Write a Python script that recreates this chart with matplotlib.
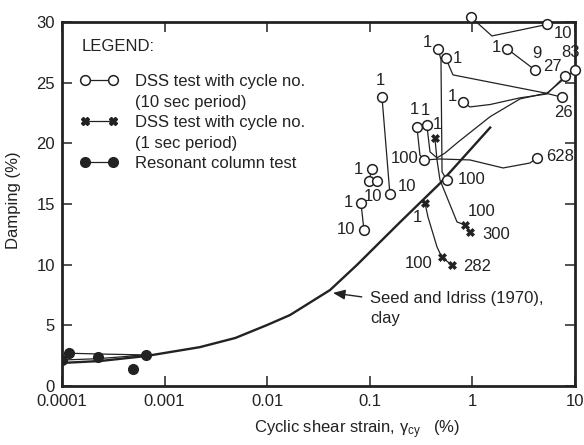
import matplotlib
matplotlib.use('Agg')
import matplotlib.pyplot as plt
from matplotlib.lines import Line2D

plt.rcParams['font.family'] = ['Liberation Sans', 'DejaVu Sans']
plt.rcParams['mathtext.fontset'] = 'custom'
plt.rcParams['mathtext.rm'] = 'Liberation Sans'
plt.rcParams['mathtext.it'] = 'Liberation Sans:italic'

ink = '#222222'

# ---------------- data ----------------

# Seed and Idriss (1970) damping curve for clay
si_strain = [0.0001, 0.000235, 0.00066, 0.0022, 0.0049, 0.01, 0.0167, 0.041, 0.075, 0.197, 0.483, 1.49]
si_damp = [1.9, 2.06, 2.47, 3.2, 3.96, 5.03, 5.85, 7.91, 9.98, 13.5, 16.7, 21.3]

# resonant column test: strain goes up and back down
rc_path_strain = [0.0001, 0.000223, 0.000654, 0.000223, 0.000118]
rc_path_damp = [2.14, 2.25, 2.56, 2.64, 2.70]
rc_strain = [0.0001, 0.000118, 0.000223, 0.000654, 0.000489]
rc_damp = [2.14, 2.70, 2.42, 2.56, 1.40]

# DSS tests, 10 sec period
# cycle no. at each point: None = bend in the path only, '' = reading with no number
t1_strain = [0.969, 1.55, 5.34]
t1_damp = [30.4, 28.85, 29.8]
t1_cyc = ['1', None, '10']

t2_strain = [2.17, 4.07]
t2_damp = [27.8, 26.05]
t2_cyc = ['1', '9']

t3_strain = [0.553, 0.605, 0.647, 5.10, 7.47]
t3_damp = [27.0, 26.2, 25.64, 24.15, 23.8]
t3_cyc = ['1', None, None, None, '26']

t4_strain = [0.81, 0.948, 1.49, 2.91, 5.34, 8.0]
t4_damp = [23.4, 23.0, 23.2, 23.75, 24.07, 25.55]
t4_cyc = ['1', None, None, None, None, '27']

t5_strain = [0.462, 0.494, 0.506, 0.565]
t5_damp = [27.8, 26.9, 17.64, 16.98]
t5_cyc = ['1', None, None, '100']

t6_strain = [0.288, 0.308, 0.337, 0.483, 0.948, 1.99, 3.64, 4.26]
t6_damp = [21.35, 19.04, 18.63, 18.71, 18.63, 17.97, 18.38, 18.8]
t6_cyc = ['1', None, '100', None, None, None, None, '628']

t7_strain = [0.360, 0.386, 0.452, 0.541, 0.724, 1.49, 2.91, 5.34, 10.0]
t7_damp = [21.5, 19.3, 18.8, 19.2, 20.1, 22.2, 23.66, 24.15, 26.05]
t7_cyc = ['1', None, None, None, None, None, None, None, '83']

t8_strain = [0.1315, 0.157]
t8_damp = [23.8, 15.83]
t8_cyc = ['1', '10']

t9_strain = [0.082, 0.0877]
t9_damp = [15.09, 12.86]
t9_cyc = ['1', '10']

t10_strain = [0.105, 0.098, 0.1175]
t10_damp = [17.9, 16.9, 16.9]
t10_cyc = ['1', '', '10']

# DSS tests, 1 sec period
x1_strain = [0.431, 0.452, 0.483, 0.708, 0.847, 0.948]
x1_damp = [20.45, 18.63, 16.98, 13.52, 13.27, 12.7]
x1_cyc = ['1', None, None, None, '100', '300']

x2_strain = [0.345, 0.369, 0.452, 0.502, 0.628]
x2_damp = [15.09, 13.93, 11.46, 10.63, 9.98]
x2_cyc = ['1', None, None, '100', '282']

xticks = [0.0001, 0.001, 0.01, 0.1, 1, 10]
xtick_labels = ['0.0001', '0.001', '0.01', '0.1', '1', '10']
yticks = [0, 5, 10, 15, 20, 25, 30]

# ---------------- plotting ----------------

fig = plt.figure(figsize=(5.84, 4.45), dpi=100)
ax = fig.add_axes([62 / 584, 1 - 386 / 445, 513 / 584, 364 / 445])
ax.set_xscale('log')
ax.set_xlim(0.0001, 10)
ax.set_ylim(0, 30)

ax.plot(si_strain, si_damp, color=ink, lw=1.7, zorder=2)

ax.plot(rc_path_strain, rc_path_damp, color=ink, lw=0.9, zorder=3)
ax.plot(rc_strain, rc_damp, 'o', color=ink, ms=7, zorder=4)

# label offsets in pixels for the numbered points of each test
tests = [
    (t1_strain, t1_damp, t1_cyc, 'o', [(-14, 1), None, (16, -9)]),
    (t2_strain, t2_damp, t2_cyc, 'o', [(-11, 1), (2, 16)]),
    (t3_strain, t3_damp, t3_cyc, 'o', [(11, 0), None, None, None, (1, -15)]),
    (t4_strain, t4_damp, t4_cyc, 'o', [(-11, 6), None, None, None, None, (-13, 9)]),
    (t5_strain, t5_damp, t5_cyc, 'o', [(-11, 6), None, None, (25, 0)]),
    (t6_strain, t6_damp, t6_cyc, 'o', [(-3, 17), None, (-19, 1), None, None, None, None, (23, 1)]),
    (t7_strain, t7_damp, t7_cyc, 'o', [(-2, 15), None, None, None, None, None, None, None, (-4, 17)]),
    (t8_strain, t8_damp, t8_cyc, 'o', [(-2, 17), (17, 7)]),
    (t9_strain, t9_damp, t9_cyc, 'o', [(-13, 0), (-18, 0)]),
    (t10_strain, t10_damp, t10_cyc, 'o', [(-14, -1), None, (-4, -16)]),
    (x1_strain, x1_damp, x1_cyc, 'X', [(2, 13), None, None, None, (17, 13), (26, -3)]),
    (x2_strain, x2_damp, x2_cyc, 'X', [(-8, -15), None, None, (-23, -6), (25, -2)]),
]

for strain, damp, cyc, mk, offs in tests:
    ax.plot(strain, damp, color=ink, lw=0.9, zorder=3, clip_on=False)
    px = [s for s, c in zip(strain, cyc) if c is not None]
    py = [d for d, c in zip(damp, cyc) if c is not None]
    if mk == 'o':
        ax.plot(px, py, 'o', mfc='white', mec=ink, ms=7, mew=1.1, zorder=4, clip_on=False)
    else:
        ax.plot(px, py, 'X', color=ink, ms=6, mew=0.5, zorder=4, clip_on=False)
    for s, d, c, o in zip(strain, damp, cyc, offs):
        if c:
            ax.annotate(c, (s, d), xytext=o, textcoords='offset pixels',
                        ha='center', va='center', fontsize=12, color=ink)

# curve callout
ax.annotate('Seed and Idriss (1970),', xy=(0.0438, 7.67), xytext=(0.1005, 7.25),
            ha='left', va='center', fontsize=12, color=ink,
            arrowprops=dict(arrowstyle='-|>,head_length=0.6,head_width=0.25',
                            color=ink, lw=1.0, shrinkA=4, shrinkB=0, relpos=(0, 0.5)))
ax.text(0.1005, 5.6, 'clay', ha='left', va='center', fontsize=12, color=ink)

# legend
ax.text(0.039, 0.933, 'LEGEND:', transform=ax.transAxes, ha='left', va='center',
        fontsize=12, color=ink)
h_open = Line2D([], [], color=ink, lw=0.9, marker='o', mfc='white', mec=ink, ms=7, mew=1.1)
h_cross = Line2D([], [], color=ink, lw=0.9, marker='X', ms=6)
h_fill = Line2D([], [], color=ink, lw=0.9, marker='o', ms=7)
h_blank = Line2D([], [], linestyle='none')
ax.legend([h_open, h_blank, h_cross, h_blank, h_fill],
          ['DSS test with cycle no.', '(10 sec period)', 'DSS test with cycle no.',
           '(1 sec period)', 'Resonant column test'],
          numpoints=2, frameon=False, loc='upper left', bbox_to_anchor=(0.035, 0.857),
          handlelength=2.3, handletextpad=1.0, labelspacing=0.33, borderpad=0,
          borderaxespad=0, fontsize=12, labelcolor=ink)

# axes decorations
ax.set_xticks(xticks)
ax.set_xticklabels(xtick_labels)
ax.xaxis.set_minor_locator(matplotlib.ticker.NullLocator())
ax.set_yticks(yticks)
ax.tick_params(direction='in', top=True, right=True, length=7.5, width=1.1,
               labelsize=12, colors=ink)
ax.tick_params(axis='x', pad=6)
ax.tick_params(axis='y', pad=5)
for sp in ax.spines.values():
    sp.set_linewidth(2.0)
    sp.set_color(ink)

ax.set_ylabel('Damping (%)', fontsize=12, color=ink)
ax.yaxis.set_label_coords(-0.08, 0.51)
ax.set_xlabel('Cyclic shear strain, γ$_{\\rm cy}$   (%)', fontsize=12, color=ink)
ax.xaxis.set_label_coords(0.575, -0.09)

fig.savefig('out.png', dpi=100)
